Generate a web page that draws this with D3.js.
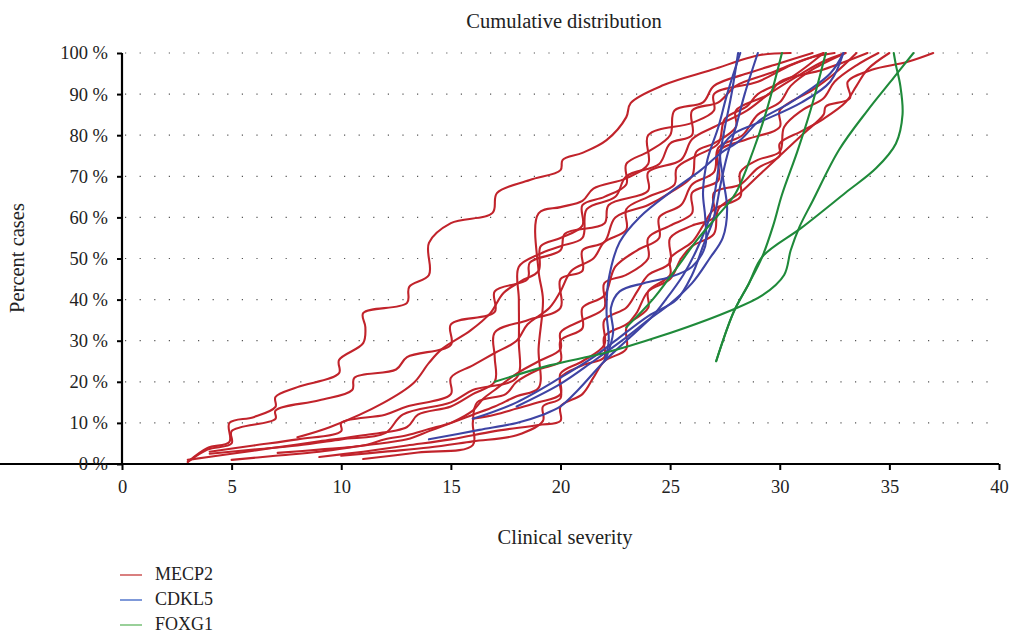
<!DOCTYPE html>
<html><head><meta charset="utf-8">
<script src="https://cdn.jsdelivr.net/npm/d3@7"></script>
<style>
body{margin:0;background:#fff;}
svg{display:block;font-family:"Liberation Serif","DejaVu Serif",serif;}
</style></head>
<body><svg id="c" width="1011" height="635"></svg>
<script>
const xTicks=[0,5,10,15,20,25,30,35,40];
const yTicks=[0,10,20,30,40,50,60,70,80,90,100];
const seriesNames=["MECP2","CDKL5","FOXG1"];

// MECP2 curves: [severity, percent]
const mecp2=[
[[3,0.5],[3.9,3.9],[4.9,5.4],[4.9,10],[6,11.4],[7,13.9],[7,16.3],[8,18.7],[9.9,22.1],[9.9,25.3],[11,29.4],[11.1,33.3],[11,36.7],[13,39.2],[13.1,43.1],[14,46],[14,53.8],[15,58.6],[16.9,61.1],[17.1,65.9],[18.6,69.1],[20,71.5],[20.1,74],[21,75.7],[22.1,78.8],[23,84.4],[23.2,87.8],[24.7,92.2],[26.9,95.9],[29.1,99.5],[30.5,100]],
[[3,0.5],[3.9,3.5],[5,5],[5,8],[7,11],[7,13],[9,15.5],[10.5,18],[10.6,21],[12.5,23],[13,26],[15,29],[15,34],[17,37],[17,42],[18.5,45],[18.6,49],[20,52],[20.2,56],[22,58.5],[22.2,63],[24,66.5],[24,71],[25.5,74],[26,79],[27,82],[28.5,86],[29.5,90],[31,95],[32,98],[33,100]],
[[8,6.5],[9.5,9],[11.9,14.8],[13.3,19.7],[14,24.6],[14.6,28],[15.9,32.5],[16.8,36.7],[17.4,41.6],[18.2,44.5],[19,47],[19.1,53],[20,55],[21,58],[21,63],[22,65],[23,68],[23,73],[24,76],[25,80],[25.2,86],[26.5,88],[27,92],[28.5,95],[30,97.5],[31.5,100]],
[[3,1],[5,2.5],[7,4],[9,5.5],[11,7],[13,9],[13.5,12],[15,14],[16,17],[17,20],[17,26],[17,32],[18.5,35],[20,38],[20,45],[21,47],[21,52],[22,54],[22.5,60],[24,63],[25,66],[26,70],[26.2,76],[27,78],[28,82],[28,86],[29.5,90],[30,93],[32,96],[34,100]],
[[4,2.5],[6,3.5],[8,4.5],[10,6],[12,7.5],[12.8,12],[15,15],[16,18],[18,21],[18.1,30],[18.1,40],[18.1,48],[19,51],[20,53],[21,55],[21.2,62],[22.5,65],[23,70],[24.5,73],[25,78],[26,80],[26,86],[27.2,88],[28,92],[29.5,95],[31.5,99],[32.5,100]],
[[7.1,2.7],[9,3.5],[11,4.5],[12,6],[13,7],[14,8.5],[15,10],[16,12],[17,14],[18,16.5],[19,18.5],[19,28],[19.2,40],[19,47],[19,61],[20,62.5],[21,64],[21.5,67],[23,69.5],[24,73],[24,80],[26,83],[27,86],[27,90],[29,93],[30.5,97],[32,100]],
[[9,1.7],[11,3],[13,4.5],[15,6],[17,8],[19,9.5],[20,10.5],[20,14],[21,17],[21.5,21],[22,25],[23,28],[23,33],[23.5,37],[24,42],[25,45],[25.5,50],[26,53],[27,56],[27.2,62],[28.2,66],[29,70],[30,75],[31,80],[32,85],[32.1,87],[33.2,89],[33.1,93],[34.2,95.9],[35.8,97.8],[37,100]],
[[11,1.2],[13.5,2.8],[16,4.6],[16,10],[16.2,15],[17.5,17],[18,20],[19,23],[20,25],[20,30],[21,33],[21,38],[22,41],[22.5,48],[23.5,52],[24.5,55],[24.5,60],[25.5,63],[26,68],[27,71],[27.2,77],[28.3,80],[29,85],[30,88],[30.5,92],[31.5,96],[33,100]],
[[4,3],[6,4.5],[8,6],[10,8],[10,10],[12,12],[13,14],[15,17],[15,21],[16,24],[17,27],[18,30],[18.5,34],[19.5,38],[20,42],[20.5,47],[21.5,50],[22,54],[23,57],[23,62],[24,65],[25.2,68],[25.3,72],[26.2,75],[27.2,78],[27.5,84],[28.5,87],[29,90],[30.5,94],[32,100]],
[[5,1],[7,2],[9,3],[11,4.5],[13,6],[14,8],[15,10],[16,13],[16.5,16],[17,18],[18,22],[19,25],[20,28],[20,32],[21,35],[22,38],[22,44],[23,46],[24,50],[24,55],[25,58],[26,61],[26,66],[27.2,69],[27.2,76],[28.5,79],[30,82],[30,86],[31.5,91],[32.5,95],[33.5,100]],
[[10,2],[12,3],[14,4],[16,5.5],[18,7],[19.2,10.5],[19.2,14],[20,16],[20,21],[21,24],[22,26],[22,31],[23,34],[24,38],[24,42],[25,46],[25,50],[26,54],[26.5,58],[27,62],[28.2,65],[28.2,71],[29,74],[30,76],[30.2,82],[31,86],[32,89],[32.5,93],[33.5,97],[34.5,100]],
[[16,11],[17,12],[18,13.5],[19,15],[20,17],[20,22],[21,25],[22,29],[22,35],[23,38],[23.5,42],[24,46],[25,49],[25,55],[26,58],[27,60],[27,66],[28.2,68],[29,72],[30,75],[30,78],[31,81],[32,84],[33,88],[33.5,92],[34,96],[35,100]]
];

// CDKL5 curves
const cdkl5=[
[[14,6],[16.3,8.3],[18,10],[19.2,12],[20,14],[20.8,18],[22,25],[23,30],[24.2,36],[24.8,40],[25.6,46],[26.2,52],[26.8,60],[27.1,68],[27.3,76],[27.5,82],[27.8,90],[28.1,100]],
[[16,11],[18,15],[20,21],[21.5,26],[22.5,30],[24,36],[25.3,40],[26,46],[26.5,53],[27,60],[27.3,68],[27.6,75],[28,82],[28.4,90],[29,100]],
[[18,14],[20,19.5],[21.5,25],[22.8,30],[24,35],[25,39],[26,44],[26.8,50],[27.4,55],[27.6,62],[27.4,70],[27.3,76],[27.8,80],[29,83],[31,88],[32.3,93],[32.9,100]],
[[22,25],[22.2,30],[22.1,37],[22.2,45],[22.7,54],[23.6,60],[25.1,66.5],[26.4,71.5],[27.3,75.6],[28.2,78.8],[29.1,83.7],[30.5,88],[32.3,95],[32.9,100]],
[[22.1,26],[22.4,32],[22.3,38],[22.7,42],[23.8,44],[25,45.5],[26,48],[26.6,53],[26.6,60],[26.5,66],[26.7,74],[27.2,82],[27.6,90],[28.2,100]]
];

// FOXG1 curves
const foxg1=[
[[17,20],[19.5,24],[22,27],[24.5,31],[27.6,37],[29.2,41],[30.2,46],[30.5,52],[30.9,57.7],[31.5,64],[32.7,76.4],[34,86],[35.2,94],[36.1,100]],
[[23,33.3],[24.2,40],[25.2,47],[26.3,55],[27.2,60.6],[28,66],[28.8,76.4],[29.4,86],[30.1,100]],
[[27.1,25],[27.9,37],[28.6,44],[29.2,50.4],[29.7,58],[30.1,65.5],[30.8,76],[31.4,86],[32.1,100]],
[[27.1,25],[27.9,37],[28.6,44],[29.2,50.4],[31,57.5],[33,66],[34.4,72],[35.3,78],[35.6,85],[35.5,92],[35.3,97],[35.2,100]]
];

const colors={MECP2:"#c1232b",CDKL5:"#3e44a4",FOXG1:"#1f8a3a"};
const legendColors={MECP2:"#cc5555",CDKL5:"#5577cc",FOXG1:"#77c077"};

const svg=d3.select("#c");
const x=d3.scaleLinear().domain([0,40]).range([122,999]);
const y=d3.scaleLinear().domain([0,100]).range([464,53]);

// grid
svg.append("g").selectAll("line").data(yTicks.filter(d=>d>0)).join("line")
 .attr("x1",x(0)+3).attr("x2",x(40)).attr("y1",d=>y(d)).attr("y2",d=>y(d))
 .attr("stroke","#555").attr("stroke-width",1.2).attr("stroke-dasharray","1.2,13.4");

const line=d3.line().x(d=>x(d[0])).y(d=>y(d[1])).curve(d3.curveCatmullRom.alpha(0.5));
function draw(arr,col){
 svg.append("g").selectAll("path").data(arr).join("path")
  .attr("d",line).attr("fill","none").attr("stroke",col).attr("stroke-width",2.1)
  .attr("stroke-linejoin","round").attr("stroke-linecap","round");
}
draw(mecp2,colors.MECP2);
draw(cdkl5,colors.CDKL5);
draw(foxg1,colors.FOXG1);

// axes
const xAxis=svg.append("g").attr("transform",`translate(0,${y(0)})`)
 .call(d3.axisBottom(x).tickValues(xTicks).tickSize(6).tickPadding(10).tickSizeOuter(0));
const yAxis=svg.append("g").attr("transform",`translate(${x(0)},0)`)
 .call(d3.axisLeft(y).tickValues(yTicks).tickSize(5).tickPadding(9).tickSizeOuter(0).tickFormat(d=>d+" %"));
[xAxis,yAxis].forEach(a=>{
 a.selectAll("path").attr("stroke","#000").attr("stroke-width",2.2);
 a.selectAll("line").attr("stroke","#000").attr("stroke-width",2);
 a.selectAll("text").attr("fill","#222").style("font-family","'Liberation Serif',serif").style("font-size","18.5px");
});
yAxis.select(".domain").attr("d",`M0,${y(0)}V${y(100)}`);
xAxis.select(".domain").attr("d",`M0,0H${x(40)}`);

svg.append("text").attr("x",564).attr("y",28).attr("text-anchor","middle")
 .style("font-size","20.5px").attr("fill","#222").text("Cumulative distribution");
svg.append("text").attr("x",565).attr("y",544).attr("text-anchor","middle")
 .style("font-size","20.5px").attr("fill","#222").text("Clinical severity");
svg.append("text").attr("transform","translate(24,258) rotate(-90)").attr("text-anchor","middle")
 .style("font-size","20.5px").attr("fill","#222").text("Percent cases");

const lg=svg.append("g");
seriesNames.forEach((n,i)=>{
 const yy=575+i*25;
 lg.append("line").attr("x1",120).attr("x2",142).attr("y1",yy).attr("y2",yy)
  .attr("stroke",legendColors[n]).attr("stroke-width",1.5);
 lg.append("text").attr("x",155).attr("y",yy+5).style("font-size","18px").attr("fill","#222").text(n);
});
</script></body></html>
